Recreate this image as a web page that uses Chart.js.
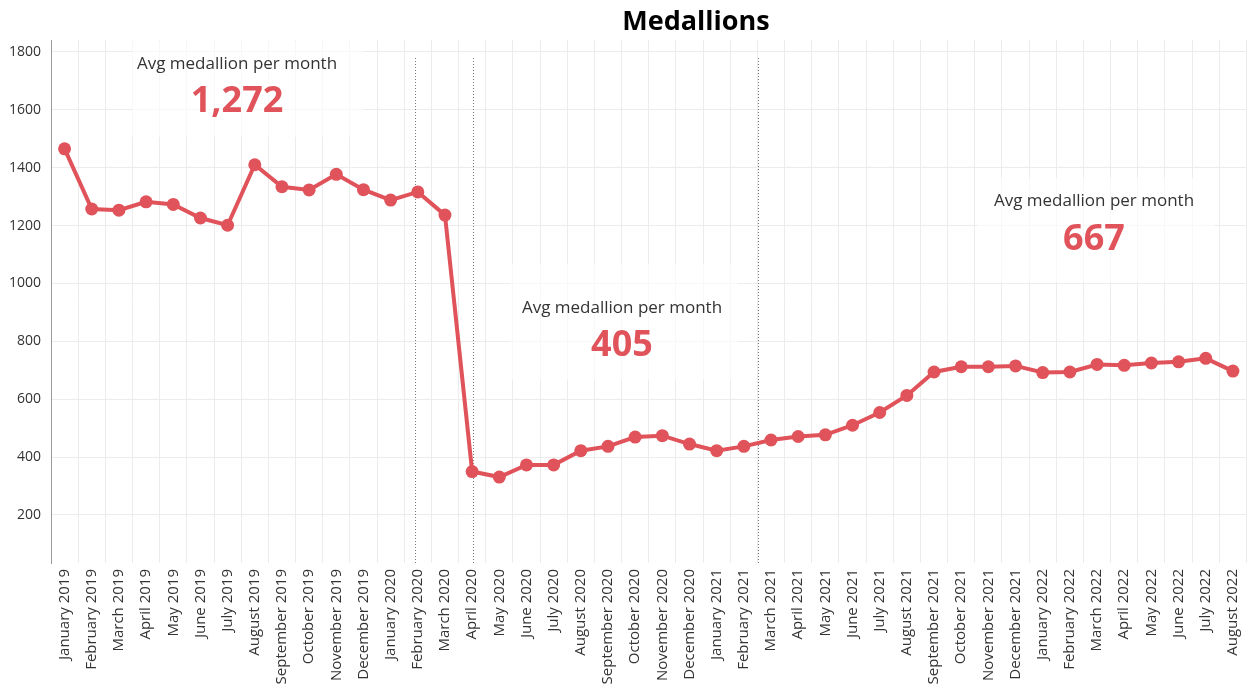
<!DOCTYPE html>
<html>
<head>
<meta charset="utf-8">
<script src="https://cdn.jsdelivr.net/npm/chart.js@4.4.0/dist/chart.umd.min.js"></script>
<style>
  html, body { margin: 0; padding: 0; background: #fff; overflow: hidden; }
  #wrap { width: 1249px; height: 690px; position: relative; overflow: hidden; }
</style>
</head>
<body>
<!-- canvas is a few px wider than the window: Chart.js keeps some room right of the last rotated label -->
<div id="wrap"><canvas id="lineChart" width="1253" height="690"></canvas></div>
<script>
// data
const months = [
  'January 2019', 'February 2019', 'March 2019', 'April 2019', 'May 2019', 'June 2019',
  'July 2019', 'August 2019', 'September 2019', 'October 2019', 'November 2019', 'December 2019',
  'January 2020', 'February 2020', 'March 2020', 'April 2020', 'May 2020', 'June 2020',
  'July 2020', 'August 2020', 'September 2020', 'October 2020', 'November 2020', 'December 2020',
  'January 2021', 'February 2021', 'March 2021', 'April 2021', 'May 2021', 'June 2021',
  'July 2021', 'August 2021', 'September 2021', 'October 2021', 'November 2021', 'December 2021',
  'January 2022', 'February 2022', 'March 2022', 'April 2022', 'May 2022', 'June 2022',
  'July 2022', 'August 2022'
];
const medallions = [
  1465, 1257, 1253, 1282, 1273, 1226, 1201, 1410, 1334, 1323, 1377, 1324,
  1288, 1316, 1236, 350, 331, 373, 373, 422, 437, 469, 474, 445,
  422, 437, 459, 471, 477, 510, 554, 613, 694, 712, 712, 715,
  692, 694, 720, 717, 725, 729, 741, 697
];
const yTicks = [200, 400, 600, 800, 1000, 1200, 1400, 1600, 1800];
const avgLabel = 'Avg medallion per month';
const avgValues = ['1,272', '405', '667'];

const red = '#E0535A';
const font = "'Open Sans', 'Noto Sans', sans-serif";

// period dividers (category positions)
const dividers = [12.88, 15.03, 25.52];

const overlay = {
  id: 'overlay',
  beforeDatasetsDraw(chart) {
    const ctx = chart.ctx;
    const x = chart.scales.x;
    const bottom = chart.chartArea.bottom;
    ctx.save();
    // faded text boxes
    ctx.fillStyle = 'rgba(255,255,255,0.65)';
    ctx.fillRect(132, 41, 232, 96);
    ctx.fillRect(510, 264, 228, 116);
    ctx.fillRect(978, 178, 236, 104);
    // dotted dividers
    ctx.strokeStyle = '#7a7a7a';
    ctx.lineWidth = 1;
    ctx.setLineDash([1, 2]);
    dividers.forEach(d => {
      const px = Math.round(x.getPixelForValue(d)) + 0.5;
      ctx.beginPath();
      ctx.moveTo(px, 58);
      ctx.lineTo(px, bottom);
      ctx.stroke();
    });
    ctx.restore();
  },
  afterDraw(chart) {
    const ctx = chart.ctx;
    ctx.save();
    ctx.textAlign = 'center';
    ctx.textBaseline = 'middle';
    // title
    ctx.fillStyle = '#000';
    ctx.font = 'bold 27px ' + font;
    ctx.fillText('Medallions', 696, 22);
    const boxes = [[237, 64, 102], [622, 308, 346], [1094, 201, 240]];
    boxes.forEach((b, i) => {
      ctx.fillStyle = '#333';
      ctx.font = '17px ' + font;
      ctx.fillText(avgLabel, b[0], b[1]);
      ctx.fillStyle = red;
      ctx.font = 'bold 36px ' + font;
      ctx.fillText(avgValues[i], b[0], b[2]);
    });
    ctx.restore();
  }
};

new Chart(document.getElementById('lineChart'), {
  type: 'line',
  data: {
    labels: months,
    datasets: [{
      label: 'Medallions',
      data: medallions,
      borderColor: red,
      backgroundColor: red,
      borderWidth: 4,
      pointRadius: 6.5,
      pointHoverRadius: 6.5,
      pointBackgroundColor: red,
      pointBorderWidth: 0,
      tension: 0,
      fill: false
    }]
  },
  options: {
    responsive: false,
    animation: false,
    maintainAspectRatio: false,
    devicePixelRatio: 1,
    layout: { padding: { top: 40, right: 1, left: 0, bottom: 0 } },
    plugins: {
      legend: { display: false },
      tooltip: { enabled: false },
      title: { display: false }
    },
    scales: {
      x: {
        offset: true,
        grid: { offset: true, color: '#ececec', drawTicks: false },
        border: { display: false },
        ticks: {
          autoSkip: false,
          maxRotation: 90,
          minRotation: 90,
          color: '#333',
          padding: 6,
          font: { family: font, size: 15 }
        },
        afterFit(scale) {
          scale.height = 127;
          scale.paddingRight = 0;
          scale.paddingLeft = 0;
        }
      },
      y: {
        min: 34,
        max: 1841,
        grid: { color: '#ececec', drawTicks: false },
        border: { display: true, color: '#9a9a9a', width: 1 },
        ticks: {
          color: '#333',
          padding: 10,
          font: { family: font, size: 14 },
          callback: v => String(v)
        },
        afterBuildTicks(scale) {
          scale.ticks = yTicks.map(v => ({ value: v }));
        },
        afterFit(scale) {
          scale.width = 51;
          scale.paddingTop = 0;
          scale.paddingBottom = 0;
        }
      }
    }
  },
  plugins: [overlay]
});
</script>
</body>
</html>
